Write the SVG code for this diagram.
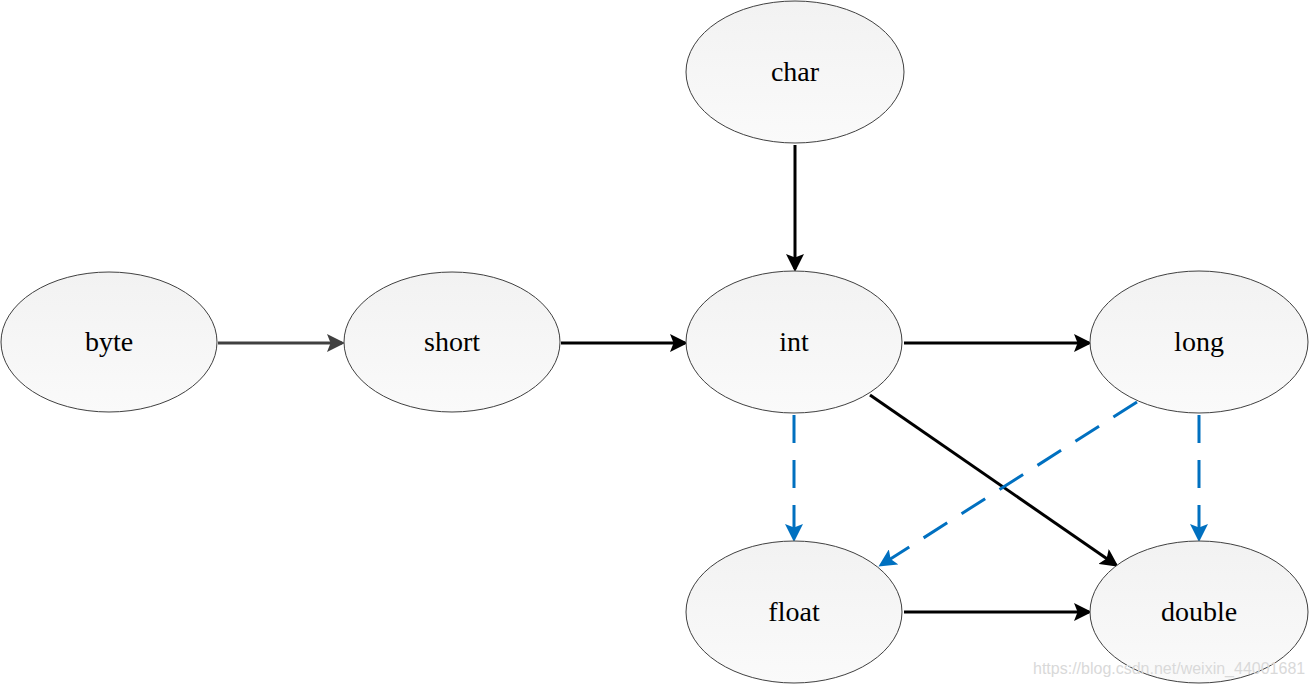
<svg xmlns="http://www.w3.org/2000/svg" width="1312" height="689" viewBox="0 0 1312 689">
<style>
.node ellipse{fill:url(#g);stroke:#404040;stroke-width:1}
.node text{font-family:"Liberation Serif",serif;font-size:28px;text-anchor:middle;fill:#000}
.solid{stroke:#000;stroke-width:3;fill:none;marker-end:url(#ab)}
.gray{stroke:#404040;stroke-width:3;fill:none;marker-end:url(#ag)}
.dash{stroke:#0070C0;stroke-width:3;fill:none;stroke-dasharray:28 17;marker-end:url(#au)}
.wm{font-family:"Liberation Sans",Arial,sans-serif;font-size:16px;fill:#d9d9d9}
</style>
<defs>
<linearGradient id="g" x1="0" y1="0" x2="0" y2="1">
<stop offset="0" stop-color="#f2f2f2"/>
<stop offset="1" stop-color="#fafafa"/>
</linearGradient>
<marker id="ab" markerWidth="6" markerHeight="6" refX="5" refY="3" orient="auto" markerUnits="strokeWidth"><path d="M0,0 L6,3 L0,6 L1.2,3 z" fill="#000"/></marker>
<marker id="ag" markerWidth="6" markerHeight="6" refX="5" refY="3" orient="auto" markerUnits="strokeWidth"><path d="M0,0 L6,3 L0,6 L1.2,3 z" fill="#404040"/></marker>
<marker id="au" markerWidth="6" markerHeight="6" refX="5" refY="3" orient="auto" markerUnits="strokeWidth"><path d="M0,0 L6,3 L0,6 L1.2,3 z" fill="#0070C0"/></marker>
</defs>
<rect width="1312" height="689" fill="#fff"/>
<g id="connectors">
<line class="gray" x1="218" y1="343" x2="342" y2="343"/>
<line class="solid" x1="561" y1="343" x2="685" y2="343"/>
<line class="solid" x1="904" y1="343" x2="1089" y2="343"/>
<line class="solid" x1="795" y1="145" x2="795" y2="269"/>
<line class="solid" x1="870" y1="395" x2="1116" y2="565"/>
<line class="solid" x1="904" y1="612" x2="1089" y2="612"/>
<line class="dash" x1="794" y1="415" x2="794" y2="539"/>
<line class="dash" x1="1137" y1="402" x2="881" y2="565"/>
<line class="dash" x1="1199" y1="415" x2="1199" y2="539"/>
</g>
<g id="node-byte" class="node"><ellipse cx="109" cy="342" rx="108" ry="70"/><text x="109" y="351">byte</text></g>
<g id="node-short" class="node"><ellipse cx="452" cy="342" rx="108" ry="70"/><text x="452" y="351">short</text></g>
<g id="node-int" class="node"><ellipse cx="794" cy="342" rx="108" ry="71"/><text x="794" y="351">int</text></g>
<g id="node-long" class="node"><ellipse cx="1199" cy="342" rx="109" ry="71"/><text x="1199" y="351">long</text></g>
<g id="node-char" class="node"><ellipse cx="795" cy="72" rx="109" ry="71"/><text x="795" y="81">char</text></g>
<g id="node-float" class="node"><ellipse cx="794" cy="612" rx="108" ry="71"/><text x="794" y="621">float</text></g>
<g id="node-double" class="node"><ellipse cx="1199" cy="612" rx="109" ry="71"/><text x="1199" y="621">double</text></g>
<text class="wm" x="1033" y="674">https://blog.csdn.net/weixin_44001681</text>
</svg>
